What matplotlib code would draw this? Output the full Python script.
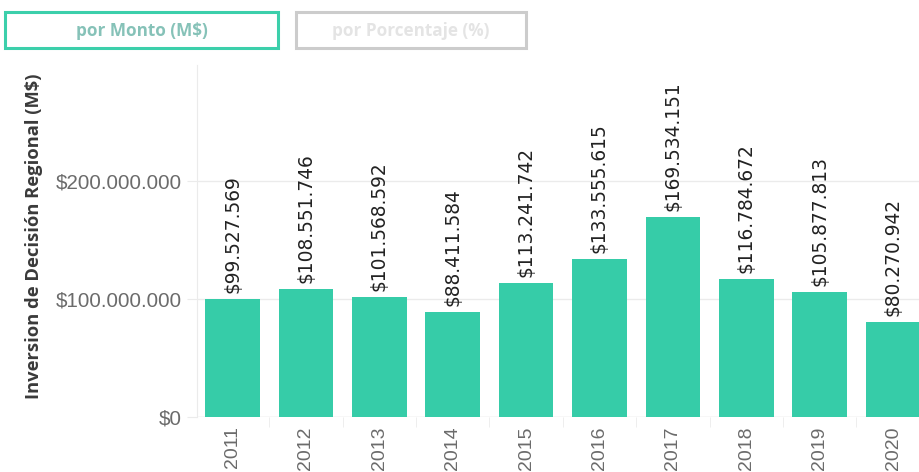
import matplotlib.pyplot as plt
from matplotlib.patches import Rectangle
from matplotlib.ticker import FuncFormatter

# data
years = ["2011", "2012", "2013", "2014", "2015", "2016", "2017", "2018", "2019", "2020"]
montos = [99527569, 108551746, 101568592, 88411584, 113241742,
          133555615, 169534151, 116784672, 105877813, 80270942]
yticks = [0, 100000000, 200000000]

bar_color = "#36cca8"
grid_color = "#ebebeb"


def fmt(v):
    return "$" + f"{int(v):,}".replace(",", ".")


fig = plt.figure(figsize=(9.2, 4.72), dpi=100)

# buttons at the top
btn1 = Rectangle((5 / 920, 1 - 48 / 472), 273 / 920, 36 / 472, transform=fig.transFigure,
                 fill=False, edgecolor="#3ccfab", linewidth=2.2)
btn2 = Rectangle((296 / 920, 1 - 48 / 472), 230 / 920, 36 / 472, transform=fig.transFigure,
                 fill=False, edgecolor="#cccccc", linewidth=2.2)
fig.patches.extend([btn1, btn2])
fig.text(142 / 920, 1 - 31 / 472, "por Monto (M$)", ha="center", va="center",
         fontsize=12.3, fontweight="bold", color="#86c2b8", family="Open Sans")
fig.text(411 / 920, 1 - 31 / 472, "por Porcentaje (%)", ha="center", va="center",
         fontsize=12.3, fontweight="bold", color="#e4e4e4", family="Open Sans")

# main axes
ax = fig.add_axes([197 / 920, 55.5 / 472, 723 / 920, 351.5 / 472])
x = range(len(years))
ax.bar(x, montos, width=0.744, color=bar_color, zorder=2)

for i, v in enumerate(montos):
    ax.annotate(fmt(v), (i, v), xytext=(0, 4.5), textcoords="offset points",
                rotation=90, ha="center", va="bottom", fontsize=13.4,
                color="#222222", family="DejaVu Sans")

ax.set_yticks(yticks)
ax.yaxis.set_major_formatter(FuncFormatter(lambda v, p: fmt(v)))
ax.grid(axis="y", color=grid_color, linewidth=1, zorder=0)
ax.set_xticks(list(x))
ax.set_xticklabels(years, rotation=90)
ax.set_xticks([i - 0.5 for i in range(len(years))], minor=True)
# limits after the ticks, set_xticks would widen them
ax.set_xlim(-0.484, 9.367)
ax.set_ylim(0, 298700000)

for s in ["top", "right", "bottom"]:
    ax.spines[s].set_visible(False)
ax.spines["left"].set_color(grid_color)
ax.axhline(0, color=grid_color, linewidth=1, zorder=1)

ax.tick_params(axis="y", length=7, color=grid_color, pad=4, labelsize=14.8,
               labelcolor="#6b6b6b")
ax.tick_params(axis="x", which="major", length=0, pad=7, labelsize=14,
               labelcolor="#6b6b6b")
ax.tick_params(axis="x", which="minor", length=7, color=grid_color)
for lab in ax.get_yticklabels() + ax.get_xticklabels():
    lab.set_family("Liberation Sans")

fig.text(34 / 920, 1 - 236 / 472, "Inversion de Decisión Regional (M$)", rotation=90,
         ha="center", va="center", fontsize=13.2, fontweight="bold",
         color="#3a3a3a", family="Open Sans")

fig.savefig("out.png", dpi=100)
